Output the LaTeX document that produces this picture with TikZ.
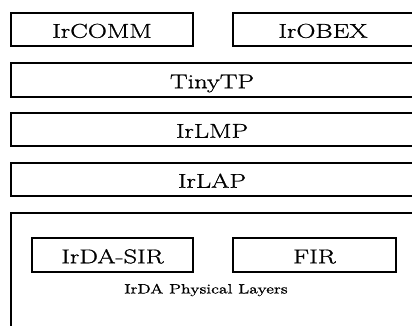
\documentclass[tikz,border=0pt]{standalone}
\usepackage{fontspec}
\newfontfamily\layerfont{Latin Modern Roman}[FakeStretch=1.32, FakeBold=1.0]
\tikzset{
  layer/.style={draw=black, line width=1.3pt, rectangle, inner sep=0pt,
    font=\layerfont\fontsize{20}{22}\selectfont, text height=16.5pt, text depth=0pt},
  caption/.style={inner sep=0pt, font=\layerfont\fontsize{13.5}{15}\selectfont}
}
\begin{document}
\begin{tikzpicture}[x=1pt,y=-1pt]
\useasboundingbox (0,0) rectangle (412,325);
\clip (0,0) rectangle (412,325);
\fill[white] (0,0) rectangle (412,325);
\node[layer, minimum width=182pt, minimum height=33pt] (comm) at (102,29.5) {IrCOMM};
\node[layer, minimum width=180pt, minimum height=33pt] (obex) at (323,29.5) {IrOBEX};
\node[layer, minimum width=402pt, minimum height=34pt] (tinytp) at (212,80) {TinyTP};
\node[layer, minimum width=402pt, minimum height=33pt] (lmp) at (212,129.5) {IrLMP};
\node[layer, minimum width=402pt, minimum height=33pt] (lap) at (212,179.5) {IrLAP};
\node[draw=black, line width=1.3pt, rectangle, minimum width=402pt, minimum height=130pt, inner sep=0pt] (phys) at (212,278) {};
\node[layer, minimum width=161pt, minimum height=34pt] (sir) at (112.5,255) {IrDA-SIR};
\node[layer, minimum width=163pt, minimum height=34pt] (fir) at (314.5,255) {FIR};
\node[caption] (physlabel) at (206,290) {IrDA Physical Layers};
\end{tikzpicture}
\end{document}
